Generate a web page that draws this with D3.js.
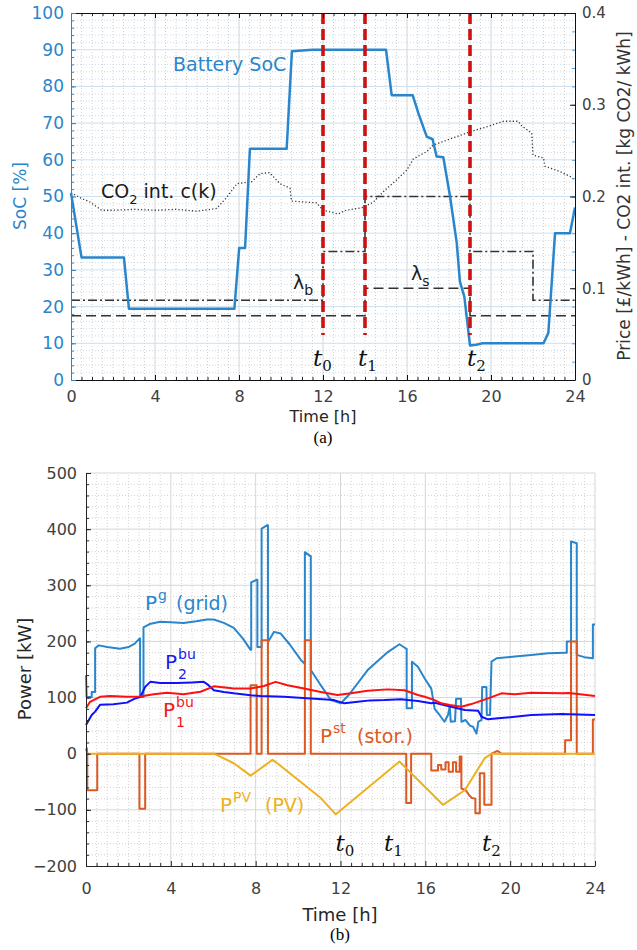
<!DOCTYPE html>
<html>
<head>
<meta charset="utf-8">
<script src="https://cdn.jsdelivr.net/npm/d3@7/dist/d3.min.js"></script>
<style>
  body { margin: 0; background: #fff; }
  svg { display: block; font-family: "DejaVu Sans", sans-serif; }
</style>
</head>
<body>
<svg id="chart" width="637" height="950"></svg>
<script>
// ---------------- (a) battery SoC, prices, CO2 ----------------
var hourTicks = [0, 4, 8, 12, 16, 20, 24];
var socTicks = [0, 10, 20, 30, 40, 50, 60, 70, 80, 90, 100];
var priceTicks = [0, 0.1, 0.2, 0.3, 0.4];

// [hour, SoC %]
var socPts = [[0,51],[0.5,33.4],[2.52,33.4],[2.76,19.4],[7.78,19.4],[8.01,36],[8.29,36],[8.52,63],
  [10.27,63],[10.52,89.6],[11.5,90],[15.0,90],[15.27,77.6],[16.27,77.6],[16.54,72.7],[16.94,66.3],
  [17.22,65.6],[17.41,60.9],[17.73,60.7],[18.05,50],[18.37,37.3],[18.52,26.8],[18.73,22.7],[19.0,9.4],
  [19.3,9.6],[19.6,10],[22.5,10],[22.73,12.8],[23.05,40],[23.76,40],[24,47]];

// [hour, kg CO2/kWh]
var co2Pts = [[0,0.204],[0.5,0.198],[0.9,0.194],[1.46,0.185],[2.0,0.185],[3,0.186],[4,0.185],[5,0.186],
  [6,0.184],[6.94,0.187],[7.45,0.2],[7.9,0.214],[8.6,0.216],[9.0,0.225],[9.45,0.226],[9.95,0.214],
  [10.43,0.209],[10.5,0.195],[11.7,0.193],[12.0,0.185],[12.73,0.181],[13.1,0.185],[13.9,0.188],
  [14.4,0.194],[14.95,0.207],[15.5,0.218],[16.0,0.229],[16.3,0.241],[16.94,0.249],[17.25,0.256],
  [18.2,0.264],[19.08,0.271],[19.8,0.276],[20.6,0.282],[21.3,0.282],[21.46,0.277],[21.94,0.269],
  [22.0,0.245],[22.5,0.242],[22.57,0.233],[23.3,0.227],[23.76,0.222],[24,0.218]];

var buyHours = [0, 12, 14, 19, 22, 24];
var buyPrice = [0.087, 0.14, 0.2, 0.14, 0.087, 0.087];
var sellHours = [0, 14, 19, 24];
var sellPrice = [0.07, 0.1, 0.07, 0.07];
var eventHours = [12, 14, 19];
var eventNames = ["0", "1", "2"];

// ---------------- (b) power flows ----------------
var powerTicks = [-200, -100, 0, 100, 200, 300, 400, 500];

// [hour, kW]
var gridPts = [[0,140],[0.03,101],[0.27,101],[0.27,110],[0.43,110],[0.43,188],[0.6,193],[1.0,190],
  [1.6,187],[2.0,190],[2.3,196],[2.52,205],[2.55,205],[2.55,101],[2.71,101],[2.71,225],[3.0,231],
  [3.5,235],[4.0,234],[4.6,233],[5.2,236],[5.7,239],[6.02,239],[6.5,233],[6.97,224],[7.4,205],
  [7.76,185],[7.79,185],[7.79,305],[8.05,310],[8.08,310],[8.08,190],[8.28,190],[8.28,401],[8.55,407],
  [8.58,407],[8.58,199],[8.86,217],[9.18,214],[9.6,195],[10.13,167],[10.32,160],[10.32,359],
  [10.58,352],[10.6,352],[10.6,149],[11.07,122],[11.55,95.5],[12.02,90],[12.4,105],[13.28,149],
  [13.9,170],[14.23,181],[14.78,195],[15.1,187],[15.12,187],[15.12,81],[15.37,81],[15.37,164],
  [15.65,155],[15.97,134],[16.28,116],[16.44,80],[16.67,69],[16.9,57],[17.07,69],[17.15,84],
  [17.2,57],[17.4,58],[17.45,98],[17.62,98],[17.68,98],[17.7,57],[17.9,60],[18.1,50],[18.25,48],
  [18.41,36],[18.5,57],[18.65,60],[18.68,119],[18.88,119],[18.9,69],[19.05,69],[19.12,164],
  [19.36,170],[20.22,173],[21.0,176],[21.8,179],[22.6,180],[22.67,180],[22.67,200],[22.87,200],
  [22.87,378],[23.14,375],[23.14,176],[23.5,172],[23.9,170],[23.9,230],[24,230]];

var bu2Pts = [[0,51],[0.27,69],[0.43,75],[0.66,87],[1.29,88],[1.93,91],[2.32,98.5],[2.56,101],
  [2.79,119],[3.03,128],[3.5,126],[4.29,126],[5.0,127],[5.55,128],[5.71,124],[6.03,113],[6.5,110],
  [6.97,107.5],[7.76,104],[8.23,102.7],[9.34,101.4],[10.6,98.5],[11.7,95.5],[12.18,89.7],[12.81,92.5],
  [13.4,95],[14.07,95.5],[14.86,96.8],[15.17,95.5],[15.65,93.8],[16.28,89.7],[16.44,90.8],[17.07,85],
  [17.86,77.8],[18.49,76.5],[18.65,65.8],[18.96,61.2],[19.43,63],[20.22,65.8],[21.0,68.9],
  [22.43,70.6],[24,69]];

var bu1Pts = [[0,80.8],[0.19,92.5],[0.66,101.4],[1.14,102.7],[1.93,101.4],[2.56,102],[3.19,106],
  [3.82,108.6],[4.6,106],[5.4,110.3],[6.03,120],[6.34,119],[6.97,116],[7.76,116],[8.39,120.5],
  [8.94,128],[9.5,122],[10.28,116],[11.07,110],[11.86,104.5],[12.49,107.5],[13.28,112],[14.23,114.6],
  [15.02,113],[15.65,104.5],[15.97,101.4],[16.44,95.5],[16.75,89.7],[17.15,86.7],[17.7,83.6],
  [18.17,88.4],[18.96,98.5],[19.59,107.5],[20.22,106],[21.0,108.6],[22.43,107.5],[22.75,108],
  [23.3,106],[24,102.7]];

var storPts = [[0,5],[0.04,10],[0.06,0],[0.06,-65],[0.53,-65],[0.53,0],[2.52,0],[2.52,-98],[2.79,-98],
  [2.79,0],[7.76,0],[7.76,122],[8.05,122],[8.05,0],[8.28,0],[8.28,202],[8.58,202],[8.58,0],[10.32,0],
  [10.32,202],[10.6,202],[10.6,0],[15.1,0],[15.1,-88],[15.33,-88],[15.33,0],[16.28,0],[16.28,-30],
  [16.6,-30],[16.6,-20],[16.75,-20],[16.75,-28],[16.95,-28],[16.95,-15],[17.1,-15],[17.1,-32],
  [17.3,-32],[17.3,-15],[17.45,-15],[17.45,-32],[17.62,-32],[17.62,-5],[17.7,-5],[17.7,-62],
  [17.9,-65],[18.05,-73],[18.2,-79],[18.36,-80],[18.36,-106],[18.57,-106],[18.57,-35],[18.78,-35],
  [18.78,-91],[19.12,-91],[19.12,0],[19.4,5],[19.6,0],[22.59,0],[22.59,24],[22.87,24],[22.87,200],
  [23.14,200],[23.14,0],[23.9,0],[23.9,61],[24,61]];

var pvPts = [[0,0],[6.03,0],[6.97,-17],[7.76,-39],[8.79,-11],[9.02,-17],[11.07,-79],[11.78,-108],
  [14.78,-14],[16.83,-91],[17.86,-65],[18.8,-8],[19.12,0],[24,0]];


var svg = d3.select("#chart");
var dark = "#262626";
var socBlue = "#2a86cc";

function pathOf(x, y) {
  return d3.line().x(function(d) { return x(d[0]); }).y(function(d) { return y(d[1]); });
}

function gridLines(g, x, y, xs, ys, o) {
  var yr = y.range(), xr = x.range();
  g.append("g").selectAll("line").data(xs).join("line")
    .attr("x1", d => x(d)).attr("x2", d => x(d)).attr("y1", yr[0]).attr("y2", yr[1])
    .attr("stroke", o.vcol).attr("stroke-width", o.w).attr("stroke-dasharray", o.dash);
  g.append("g").selectAll("line").data(ys).join("line")
    .attr("y1", d => y(d)).attr("y2", d => y(d)).attr("x1", xr[0]).attr("x2", xr[1])
    .attr("stroke", o.hcol).attr("stroke-width", o.w).attr("stroke-dasharray", o.dash);
}

function styleAxis(g, lineCol, textCol, size) {
  g.attr("font-family", "DejaVu Sans, sans-serif").attr("font-size", size);
  g.select(".domain").attr("stroke", lineCol);
  g.selectAll(".tick line").attr("stroke", lineCol);
  g.selectAll(".tick text").attr("fill", textCol);
}

function minorTicks(g, axis, col) {
  g.call(axis.tickSizeOuter(0).tickFormat(""));
  g.select(".domain").remove();
  g.selectAll(".tick line").attr("stroke", col);
}

// ======================= (a) =======================
var xA = d3.scaleLinear().domain([0, 24]).range([71, 575]);
var yA = d3.scaleLinear().domain([0, 100]).range([380, 13]);
var yPr = d3.scaleLinear().domain([0, 0.4]).range([380, 13]);
var gA = svg.append("g");

var halfHours = d3.range(0, 24.001, 0.5).filter(d => d % 4 !== 0);
gridLines(gA, xA, yA, halfHours, d3.range(2, 100, 2).filter(d => d % 10 !== 0),
  {vcol: "#c4c4c4", hcol: "#b9d1e8", w: 0.8, dash: "1,2"});
gridLines(gA, xA, yA, hourTicks.slice(1, -1), socTicks.slice(1, -1),
  {vcol: "#d4d4d4", hcol: "#cce0f2", w: 1, dash: null});

// price steps and CO2 intensity (right axis)
var step = d3.line().curve(d3.curveStepAfter).x(d => xA(d[0])).y(d => yPr(d[1]));
gA.append("path").datum(d3.zip(buyHours, buyPrice)).attr("d", step)
  .attr("fill", "none").attr("stroke", "#333").attr("stroke-width", 1.6)
  .attr("stroke-dasharray", "9,3,2,3");
gA.append("path").datum(d3.zip(sellHours, sellPrice)).attr("d", step)
  .attr("fill", "none").attr("stroke", "#333").attr("stroke-width", 1.6)
  .attr("stroke-dasharray", "10,5");
gA.append("path").datum(co2Pts).attr("d", pathOf(xA, yPr))
  .attr("fill", "none").attr("stroke", "#333").attr("stroke-width", 1.3)
  .attr("stroke-dasharray", "1.2,2.2");

// battery SoC
gA.append("path").datum(socPts).attr("d", pathOf(xA, yA))
  .attr("fill", "none").attr("stroke", socBlue).attr("stroke-width", 2.5)
  .attr("stroke-linejoin", "round");

// event markers
gA.selectAll(".ev").data(eventHours).join("line").attr("class", "ev")
  .attr("x1", d => xA(d)).attr("x2", d => xA(d)).attr("y1", yA(100)).attr("y2", 335)
  .attr("stroke", "#cc1111").attr("stroke-width", 3.6).attr("stroke-dasharray", "11,5");

// axes
gA.append("g").attr("transform", "translate(0,380)")
  .call(g => minorTicks(g, d3.axisBottom(xA).tickValues(halfHours).tickSizeInner(-3), dark));
gA.append("g").attr("transform", "translate(0,13)")
  .call(g => minorTicks(g, d3.axisTop(xA).tickValues(halfHours).tickSizeInner(-3), dark));
gA.append("g").attr("transform", "translate(71,0)")
  .call(g => minorTicks(g, d3.axisLeft(yA).tickValues(d3.range(0, 100.01, 2)).tickSizeInner(-3), socBlue));
gA.append("g").attr("transform", "translate(575,0)")
  .call(g => minorTicks(g, d3.axisRight(yPr).tickValues(d3.range(0, 0.401, 0.02)).tickSizeInner(-3), "#5b9fd6"));

gA.append("g").attr("transform", "translate(0,380)")
  .call(d3.axisBottom(xA).tickValues(hourTicks).tickSizeInner(-5).tickSizeOuter(0).tickPadding(11))
  .call(g => styleAxis(g, "#111", "#404040", 16));
gA.append("g").attr("transform", "translate(0,13)")
  .call(d3.axisTop(xA).tickValues(hourTicks).tickSizeInner(-5).tickSizeOuter(0).tickFormat(""))
  .call(g => styleAxis(g, "#111", "#404040", 16));
gA.append("g").attr("transform", "translate(71,0)")
  .call(d3.axisLeft(yA).tickValues(socTicks).tickSizeInner(-5).tickSizeOuter(0).tickPadding(7))
  .call(g => styleAxis(g, socBlue, socBlue, 17));
gA.append("g").attr("transform", "translate(575,0)")
  .call(d3.axisRight(yPr).tickValues(priceTicks).tickSizeInner(-5).tickSizeOuter(0).tickPadding(7)
    .tickFormat(d => d === 0 ? "0" : d3.format(".1f")(d)))
  .call(g => styleAxis(g, "#111", "#404040", 15));

// annotations (a)
gA.append("text").attr("x", 173).attr("y", 71).attr("font-size", 19).attr("fill", socBlue)
  .text("Battery SoC");
var co2t = gA.append("text").attr("x", 101).attr("y", 198).attr("font-size", 19).attr("fill", "#1a1a1a");
co2t.append("tspan").text("CO");
co2t.append("tspan").attr("dy", 6).attr("font-size", 13).text("2");
co2t.append("tspan").attr("dy", -6).text(" int. c(k)");

function lambda(g, x, y, sub) {
  var t = g.append("text").attr("x", x).attr("y", y).attr("font-size", 19).attr("fill", "#1a1a1a");
  t.append("tspan").text("λ");
  t.append("tspan").attr("dy", 6).attr("font-size", 14).text(sub);
}
lambda(gA, 293, 289, "b");
lambda(gA, 411, 280, "s");

function tLabel(g, x, y, sub) {
  var t = g.append("text").attr("x", x).attr("y", y).attr("fill", "#111")
    .attr("font-family", "DejaVu Serif, serif");
  t.append("tspan").attr("font-size", 23).attr("font-style", "italic").text("t");
  t.append("tspan").attr("dy", 5).attr("font-size", 15).text(sub);
}
var tDxA = [-10, -7, -3];
eventHours.forEach((h, i) => tLabel(gA, xA(h) + tDxA[i], 366, eventNames[i]));

gA.append("text").attr("transform", "translate(26,196) rotate(-90)").attr("text-anchor", "middle")
  .attr("font-size", 17).attr("fill", socBlue).text("SoC [%]");
gA.append("text").attr("transform", "translate(630,196) rotate(-90)").attr("text-anchor", "middle")
  .attr("font-size", 17).attr("fill", "#333").text("Price [£/kWh] - CO2 int. [kg CO2/ kWh]");
gA.append("text").attr("x", 323).attr("y", 422).attr("text-anchor", "middle")
  .attr("font-size", 16).attr("fill", dark).text("Time [h]");
gA.append("text").attr("x", 323).attr("y", 443).attr("text-anchor", "middle")
  .attr("font-family", "Liberation Serif, serif").attr("font-size", 17).attr("fill", "#000").text("(a)");

// ======================= (b) =======================
var xB = d3.scaleLinear().domain([0, 24]).range([86, 595]);
var yB = d3.scaleLinear().domain([-200, 500]).range([866, 473]);
var gB = svg.append("g");

gridLines(gB, xB, yB, halfHours, d3.range(-180, 500, 20).filter(d => d % 100 !== 0),
  {vcol: "#c8c8c8", hcol: "#c8c8c8", w: 0.8, dash: "1,2"});
gridLines(gB, xB, yB, hourTicks.slice(1), powerTicks.slice(1),
  {vcol: "#d6d6d6", hcol: "#d6d6d6", w: 1, dash: null});

var lineB = pathOf(xB, yB);
[[gridPts, socBlue], [storPts, "#dc5a22"], [bu2Pts, "#1010ff"], [bu1Pts, "#ff1010"], [pvPts, "#edb120"]]
  .forEach(function(s) {
    gB.append("path").datum(s[0]).attr("d", lineB).attr("fill", "none")
      .attr("stroke", s[1]).attr("stroke-width", 2).attr("stroke-linejoin", "round");
  });

gB.append("g").attr("transform", "translate(0,866)")
  .call(g => minorTicks(g, d3.axisBottom(xB).tickValues(halfHours).tickSizeInner(-3), dark));
gB.append("g").attr("transform", "translate(86,0)")
  .call(g => minorTicks(g, d3.axisLeft(yB).tickValues(d3.range(-200, 500.1, 20)).tickSizeInner(-3), dark));
gB.append("g").attr("transform", "translate(0,866)")
  .call(d3.axisBottom(xB).tickValues(hourTicks).tickSizeInner(-5).tickSizeOuter(0).tickPadding(17))
  .call(g => styleAxis(g, dark, "#404040", 16));
gB.append("g").attr("transform", "translate(86,0)")
  .call(d3.axisLeft(yB).tickValues(powerTicks).tickSizeInner(-5).tickSizeOuter(0).tickPadding(9))
  .call(g => styleAxis(g, dark, "#404040", 16));

// series labels (b)
function pLabel(g, x, y, col, sup, sub, tail, tailX) {
  var t = g.append("text").attr("x", x).attr("y", y).attr("font-size", 20).attr("fill", col);
  t.append("tspan").text("P");
  t.append("tspan").attr("x", x + 13).attr("dy", -10).attr("font-size", 14).text(sup);
  if (sub) t.append("tspan").attr("x", x + 13).attr("dy", 20).attr("font-size", 14).text(sub);
  if (tail) t.append("tspan").attr("x", tailX).attr("dy", sub ? -10 : 10).attr("font-size", 19).text(tail);
}
pLabel(gB, 145, 610, socBlue, "g", null, "(grid)", 176);
pLabel(gB, 165, 669, "#1a1ae6", "bu", "2", null);
pLabel(gB, 163, 717, "#f01a1a", "bu", "1", null);
pLabel(gB, 320, 743, "#dc5a22", "st", null, "(stor.)", 357);
pLabel(gB, 220, 812, "#edb120", "PV", null, "(PV)", 265);

var tDxB = [-5, 1, -7];
eventHours.forEach((h, i) => tLabel(gB, xB(h) + tDxB[i], 851, eventNames[i]));

gB.append("text").attr("transform", "translate(31,669) rotate(-90)").attr("text-anchor", "middle")
  .attr("font-size", 18).attr("fill", dark).text("Power [kW]");
gB.append("text").attr("x", 340).attr("y", 921).attr("text-anchor", "middle")
  .attr("font-size", 18).attr("fill", dark).text("Time [h]");
gB.append("text").attr("x", 340).attr("y", 940).attr("text-anchor", "middle")
  .attr("font-family", "Liberation Serif, serif").attr("font-size", 17).attr("fill", "#000").text("(b)");
</script>
</body>
</html>
